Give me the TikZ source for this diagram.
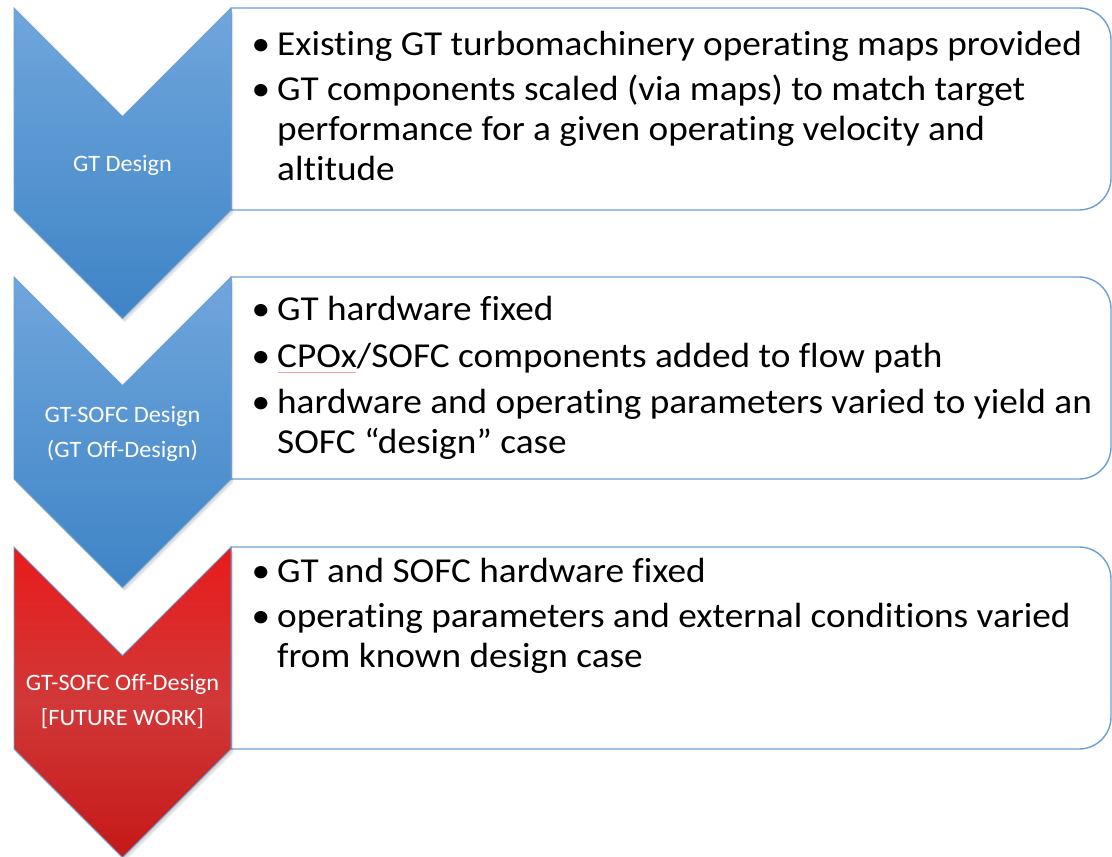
\documentclass[tikz,border=0pt]{standalone}
\usepackage{fontspec}
\setmainfont{Carlito}[Ligatures=NoCommon]
\newfontfamily\bodyfont{Carlito}[FakeStretch=1.065, Ligatures=NoCommon]
\newfontfamily\labfont{Carlito}[FakeStretch=1.035, Ligatures=NoCommon]
\usetikzlibrary{calc}
\definecolor{blueT}{HTML}{70A6DC}
\definecolor{blueB}{HTML}{3E84C6}
\definecolor{redT}{HTML}{FF0000}
\definecolor{redM}{HTML}{D13838}
\definecolor{redB}{HTML}{BE0202}
\definecolor{edgeBlue}{HTML}{6A9FD8}
\definecolor{spellRed}{HTML}{F2A0A0}
\pgfdeclareverticalshading{redchev}{100bp}{color(0bp)=(redB); color(25bp)=(redB!60!redM); color(50bp)=(redM); color(72bp)=(redT!45!redM); color(88bp)=(redT); color(100bp)=(redT)}
\newcommand{\bl}{\leavevmode\llap{•\hspace{7pt}}}
\tikzset{
  boxline/.style={draw=edgeBlue, line width=1.4pt, fill=white},
  chevline/.style={draw=edgeBlue, line width=0.8pt},
  bluechev/.style={chevline, top color=blueT, bottom color=blueB},
  redchevron/.style={chevline, shading=redchev},
  shadowlayer/.style={fill=black, draw=none, opacity=0.07},
  bul/.style={anchor=base west, inner sep=0pt, text=black, font=\bodyfont\fontsize{35}{40}\selectfont},
  lab/.style={anchor=base, inner sep=0pt, text=white, font=\labfont\fontsize{23.5}{35}\selectfont},
}
\newcommand{\chevpath}[1]{(14,#1) -- (122.5,#1+108.5) -- (231,#1) -- (231,#1+202) -- (122.5,#1+310.5) -- (14,#1+202) -- cycle}
\newcommand{\boxpath}[1]{(231,#1) -- (1079,#1) arc[start angle=-90, end angle=0, radius=32] -- (1111,#1+170) arc[start angle=0, end angle=90, radius=32] -- (231,#1+202) -- cycle}
\begin{document}
\begin{tikzpicture}[x=1pt,y=-1pt]
\useasboundingbox (0,0) rectangle (1112,857);
% boxes
\draw[boxline] \boxpath{8};
\draw[boxline] \boxpath{277};
\draw[boxline] \boxpath{547};
% shadows
\foreach \T in {8,277,547}{
  \foreach \s in {1,2.5,4}{
    \fill[shadowlayer, shift={(\s*0.6,\s)}] \chevpath{\T};
  }
}
% chevrons
\draw[bluechev] \chevpath{8};
\draw[bluechev] \chevpath{277};
\draw[redchevron] \chevpath{547};
% chevron labels
\node[lab] (l1) at (122.5,171) {GT Design};
\node[lab] (l2) at (122.5,422) {\parbox[t]{200pt}{\centering GT-SOFC Design\\(GT Off-Design)}};
\node[lab] (l3) at (122.5,690) {\parbox[t]{210pt}{\centering GT-SOFC Off-Design\\{[}FUTURE WORK{]}}};
% bullet texts
\node[bul] (b11) at (277,55) {\parbox[t]{830pt}{\bl Existing GT turbomachinery operating maps provided}};
\node[bul] (b12) at (277,100) {\parbox[t]{830pt}{\bl GT components scaled (via maps) to match target\\performance for a given operating velocity and\\altitude}};
\node[bul] (b21) at (277,320) {\parbox[t]{830pt}{\bl GT hardware fixed}};
\node[bul] (b22) at (277,367) {\parbox[t]{830pt}{\bl CPOx/SOFC components added to flow path}};
\node[bul] (b23) at (277,413) {\parbox[t]{830pt}{\bl hardware and operating parameters varied to yield an\\SOFC “design” case}};
\node[bul] (b31) at (277,582) {\parbox[t]{830pt}{\bl GT and SOFC hardware fixed}};
\node[bul] (b32) at (277,627) {\parbox[t]{830pt}{\bl operating parameters and external conditions varied\\from known design case}};
% spell-check underline under CPOx
\draw[spellRed, line width=0.5pt] (278,372) -- (356,372);
\end{tikzpicture}
\end{document}
